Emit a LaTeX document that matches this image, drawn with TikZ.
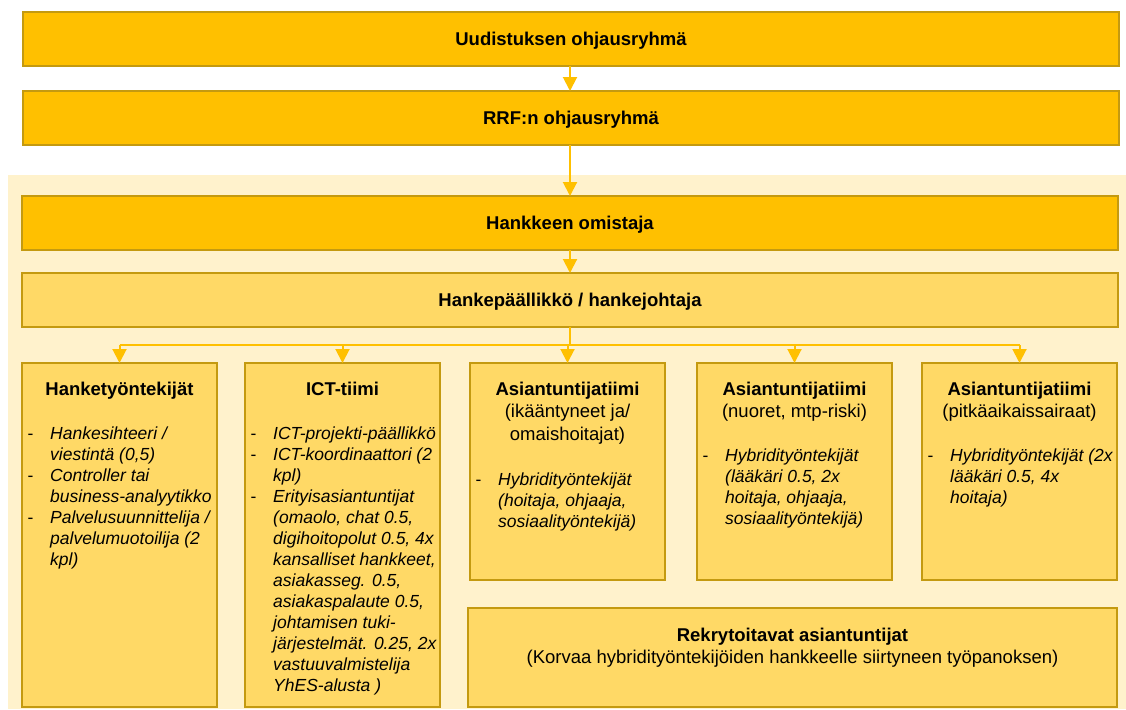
\documentclass[tikz,border=0pt]{standalone}
\usepackage{fontspec}
\setmainfont{Liberation Sans}
\usetikzlibrary{arrows.meta}
\definecolor{bardark}{HTML}{FFC000}
\definecolor{barlight}{HTML}{FFD966}
\definecolor{bgpale}{HTML}{FFF2CC}
\definecolor{edgec}{HTML}{C49A10}
\definecolor{arrowc}{HTML}{FFC000}
\begin{document}
\begin{tikzpicture}[x=1pt,y=-1pt,
  darkbar/.style={draw=edgec, line width=1.2pt, fill=bardark, minimum width=1096pt, minimum height=54pt,
    inner sep=0pt, outer sep=0pt, anchor=north west, font=\fontsize{18.5}{22}\selectfont\bfseries,
    text height=13pt, text depth=0pt},
  lightbar/.style={darkbar, fill=barlight},
  teambox/.style={draw=edgec, line width=1.2pt, fill=barlight, minimum width=195pt,
    inner sep=0pt, outer sep=0pt, anchor=north west},
  headtxt/.style={anchor=north, inner sep=0pt, font=\fontsize{18.5}{22.5}\selectfont},
  itemtxt/.style={anchor=north west, inner sep=0pt, font=\fontsize{17.5}{21}\selectfont\itshape},
  conn/.style={draw=arrowc, line width=2pt},
  arr/.style={conn, -{Triangle[width=14pt,length=14pt]}}
]
\useasboundingbox (0,0) rectangle (1126,709);
\fill[white] (0,0) rectangle (1126,709);
\fill[bgpale] (8,175) rectangle (1126,709);

% bars
\node[darkbar] (uud) at (23,12) {Uudistuksen ohjausryhmä};
\node[darkbar] (rrf) at (23,91) {RRF:n ohjausryhmä};
\node[darkbar] (omi) at (22,196) {Hankkeen omistaja};
\node[lightbar] (pjt) at (22,273) {Hankepäällikkö / hankejohtaja};

\coordinate (ax) at (570,0);
\draw[arr] (uud.south -| ax) -- (rrf.north -| ax);
\draw[arr] (rrf.south -| ax) -- (omi.north -| ax);
\draw[arr] (omi.south -| ax) -- (pjt.north -| ax);

% team boxes
\node[teambox, minimum height=344pt] (t1) at (22,363) {};
\node[teambox, minimum height=344pt] (t2) at (245,363) {};
\node[teambox, minimum height=217pt] (t3) at (470,363) {};
\node[teambox, minimum height=217pt] (t4) at (697,363) {};
\node[teambox, minimum height=217pt] (t5) at (922,363) {};
\node[teambox, minimum width=649pt, minimum height=99pt] (rek) at (468,608) {};

\coordinate (hub) at (570,345);
\draw[conn] (pjt.south -| hub) -- (hub);
\draw[conn] (t1.north |- hub) -- (t5.north |- hub);
\foreach \k in {t1,t2,t3,t4,t5} \draw[arr] (\k.north |- hub) -- (\k.north);

% headings
\node[headtxt] (t1h) at (119.5,379.25) {\begin{tabular}{@{}c@{}}\bfseries Hanketyöntekijät\end{tabular}};
\node[headtxt] (t2h) at (342.5,379.25) {\begin{tabular}{@{}c@{}}\bfseries ICT-tiimi\end{tabular}};
\node[headtxt] (t3h) at (567.5,379.25) {\begin{tabular}{@{}c@{}}\bfseries Asiantuntijatiimi\\(ikääntyneet ja/\\omaishoitajat)\end{tabular}};
\node[headtxt] (t4h) at (794.5,379.25) {\begin{tabular}{@{}c@{}}\bfseries Asiantuntijatiimi\\(nuoret, mtp-riski)\end{tabular}};
\node[headtxt] (t5h) at (1019.5,379.25) {\begin{tabular}{@{}c@{}}\bfseries Asiantuntijatiimi\\(pitkäaikaissairaat)\end{tabular}};

% item lists
\node[itemtxt] (t1l) at (27.3,424.6) {\begin{tabular}{@{}p{22.7pt}@{}l@{}}
{\upshape -}&Hankesihteeri /\\
&viestintä (0,5)\\
{\upshape -}&Controller tai\\
&business-analyytikko\\
{\upshape -}&Palvelusuunnittelija /\\
&palvelumuotoilija (2\\
&kpl)
\end{tabular}};

\node[itemtxt] (t2l) at (250.3,424.6) {\begin{tabular}{@{}p{22.7pt}@{}l@{}}
{\upshape -}&ICT-projekti-päällikkö\\
{\upshape -}&ICT-koordinaattori (2\\
&kpl)\\
{\upshape -}&Erityisasiantuntijat\\
&(omaolo, chat 0.5,\\
&digihoitopolut 0.5, 4x\\
&kansalliset hankkeet,\\
&asiakasseg. 0.5,\\
&asiakaspalaute 0.5,\\
&johtamisen tuki-\\
&järjestelmät. 0.25, 2x\\
&vastuuvalmistelija\\
&YhES-alusta )
\end{tabular}};

\node[itemtxt] (t3l) at (475.3,470.3) {\begin{tabular}{@{}p{22.7pt}@{}l@{}}
{\upshape -}&Hybridityöntekijät\\
&(hoitaja, ohjaaja,\\
&sosiaalityöntekijä)
\end{tabular}};

\node[itemtxt] (t4l) at (702.3,447) {\begin{tabular}{@{}p{22.7pt}@{}l@{}}
{\upshape -}&Hybridityöntekijät\\
&(lääkäri 0.5, 2x\\
&hoitaja, ohjaaja,\\
&sosiaalityöntekijä)
\end{tabular}};

\node[itemtxt] (t5l) at (927.3,447) {\begin{tabular}{@{}p{22.7pt}@{}l@{}}
{\upshape -}&Hybridityöntekijät (2x\\
&lääkäri 0.5, 4x\\
&hoitaja)
\end{tabular}};

% bottom box text
\node[anchor=north, inner sep=0pt, font=\fontsize{18.5}{22}\selectfont] (rekt) at (792.5,625.6)
  {\begin{tabular}{@{}c@{}}\bfseries Rekrytoitavat asiantuntijat\\(Korvaa hybridityöntekijöiden hankkeelle siirtyneen työpanoksen)\end{tabular}};
\end{tikzpicture}
\end{document}
